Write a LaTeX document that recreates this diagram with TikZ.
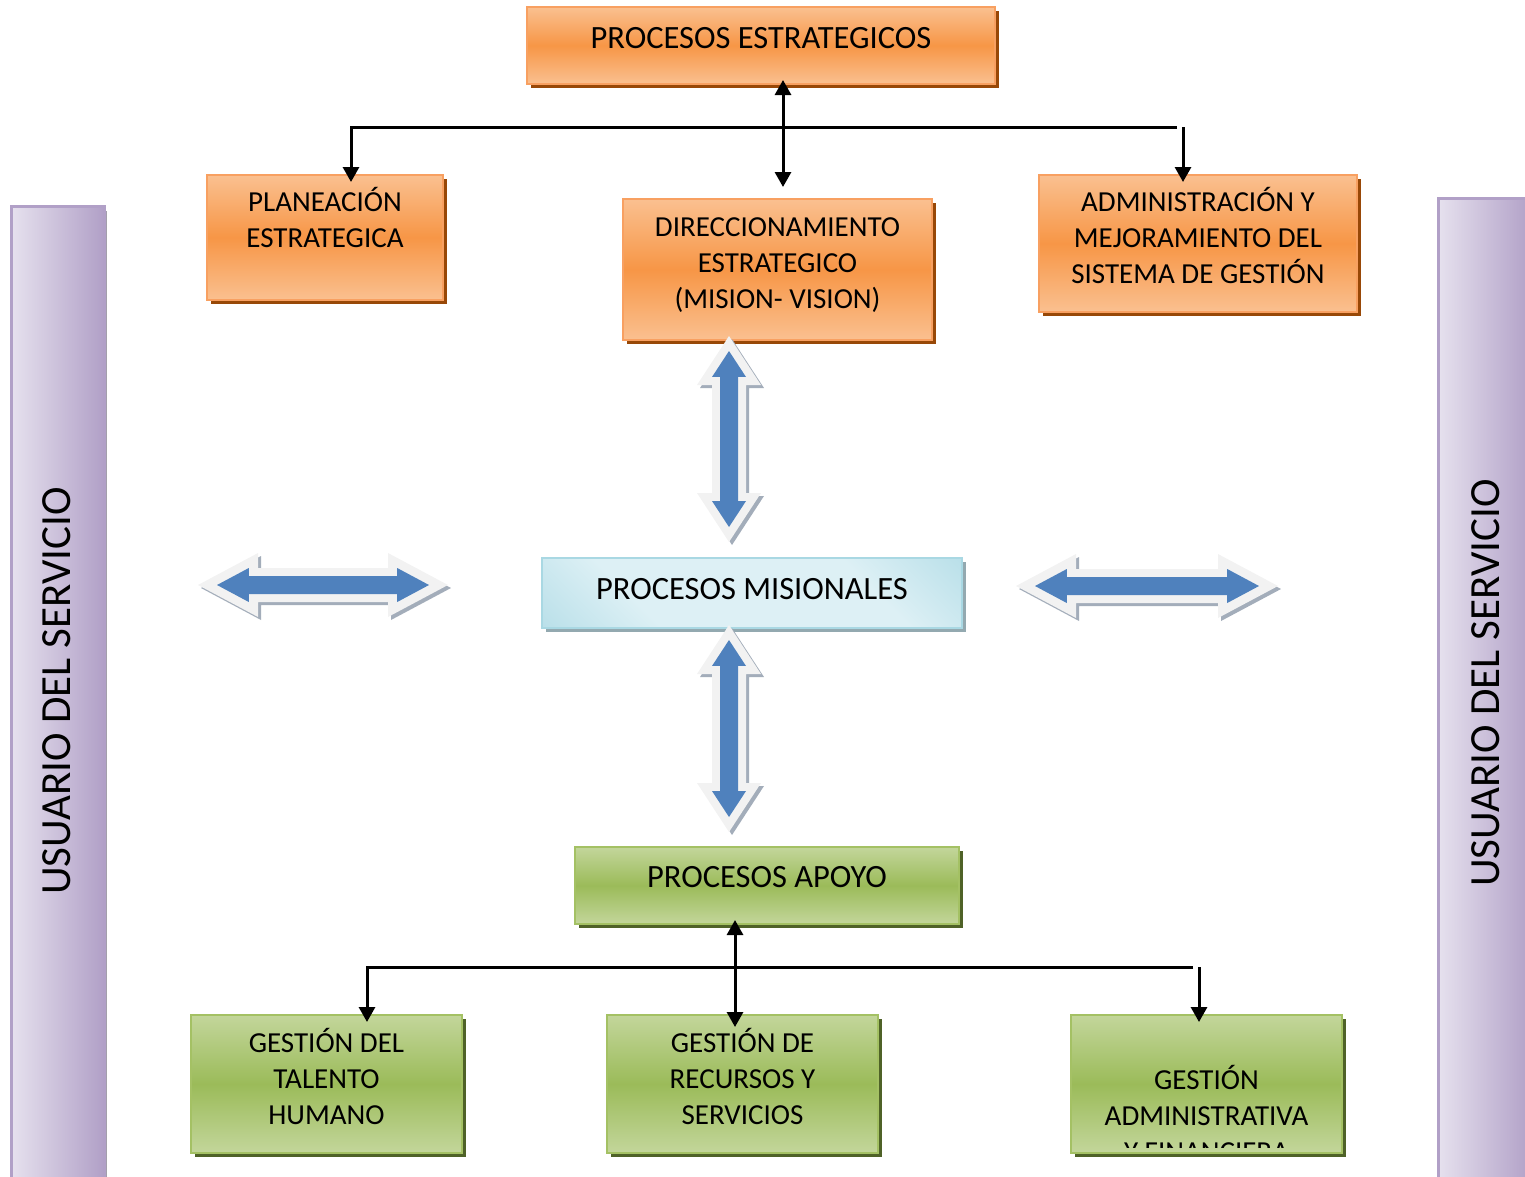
\documentclass[tikz,border=0pt]{standalone}
\usepackage{fontspec}
\setmainfont{Carlito}
\usetikzlibrary{arrows.meta}

\definecolor{orangeMid}{HTML}{F79646}
\definecolor{orangeLight}{HTML}{FAC090}
\definecolor{orangeEdge}{HTML}{F8A061}
\definecolor{orangeShadow}{HTML}{984807}
\definecolor{greenMid}{HTML}{9BBB59}
\definecolor{greenLight}{HTML}{C3D69B}
\definecolor{greenEdge}{HTML}{A4C164}
\definecolor{greenShadow}{HTML}{4F6228}
\definecolor{tealEdge}{HTML}{9CD2DF}
\definecolor{tealLight}{HTML}{DDF0F5}
\definecolor{tealLine}{HTML}{A9D8E3}
\definecolor{tealShadow}{HTML}{93A9B0}
\definecolor{lilacLight}{HTML}{E6E1EE}
\definecolor{lilacDark}{HTML}{B1A0C7}
\definecolor{barShadow}{HTML}{A39FAB}
\definecolor{arrowBlue}{HTML}{4F81BD}
\definecolor{arrowRim}{HTML}{F2F2F2}
\definecolor{arrowShade}{HTML}{A3ADBA}

% light band between two teal edges
\pgfdeclareverticalshading{tealband}{100bp}{%
  color(0bp)=(tealEdge); color(32bp)=(tealLight); color(68bp)=(tealLight); color(100bp)=(tealEdge)}

% double-headed block arrow: centre x, centre y, half length, head length, tip inset, angle
\newcommand\blockarrow[6]{%
  \pgfmathsetmacro\baL{#3}%
  \pgfmathsetmacro\baB{#3-#4}%
  \pgfmathsetmacro\biL{#3-#5}%
  \pgfmathsetmacro\biB{#3-#5-0.53*#4}%
  \fill[arrowShade, shift={(#1+3,#2+3)}, rotate=#6]
    (-\baL,0) -- (-\baB,-32) -- (-\baB,-17) -- (\baB,-17) -- (\baB,-32) -- (\baL,0)
    -- (\baB,32) -- (\baB,17) -- (-\baB,17) -- (-\baB,32) -- cycle;
  \fill[arrowRim, shift={(#1,#2)}, rotate=#6]
    (-\baL,0) -- (-\baB,-32) -- (-\baB,-17) -- (\baB,-17) -- (\baB,-32) -- (\baL,0)
    -- (\baB,32) -- (\baB,17) -- (-\baB,17) -- (-\baB,32) -- cycle;
  \fill[arrowBlue, shift={(#1,#2)}, rotate=#6]
    (-\biL,0) -- (-\biB,-17) -- (-\biB,-9) -- (\biB,-9) -- (\biB,-17) -- (\biL,0)
    -- (\biB,17) -- (\biB,9) -- (-\biB,9) -- (-\biB,17) -- cycle;
}

\tikzset{
  titlefont/.style={font=\fontsize{32.5pt}{38pt}\selectfont},
  boxfont/.style={font=\fontsize{29pt}{36pt}\selectfont},
  barfont/.style={font=\fontsize{43pt}{50pt}\selectfont},
  box/.style={rectangle, inner sep=0pt, outer sep=0pt, align=center, line width=2pt},
  orangebox/.style={box, draw=orangeEdge,
    preaction={fill=orangeShadow, transform canvas={xshift=4pt, yshift=-4pt}},
    top color=orangeLight, bottom color=orangeLight, middle color=orangeMid},
  greenbox/.style={box, draw=greenEdge,
    preaction={fill=greenShadow, transform canvas={xshift=4pt, yshift=-4pt}},
    top color=greenLight, bottom color=greenLight, middle color=greenMid},
  tealbox/.style={box, draw=tealLine,
    preaction={fill=tealShadow, transform canvas={xshift=4pt, yshift=-4pt}},
    shading=tealband, shading angle=-45},
  lilacbar/.style={box, draw=lilacDark, line width=3pt,
    preaction={fill=barShadow, transform canvas={xshift=3pt, yshift=-5pt}},
    left color=lilacLight, right color=lilacDark},
  link/.style={line width=3pt, -{Triangle[width=16pt,length=15pt]}},
  dlink/.style={line width=3pt, {Triangle[width=16pt,length=15pt]}-{Triangle[width=16pt,length=15pt]}},
}

\begin{document}
\begin{tikzpicture}[x=1pt, y=-1pt]
\useasboundingbox (0,0) rectangle (1525,1176);

% side bars
\node[lilacbar, minimum width=93pt, minimum height=990pt] (lbar) at (57.5,701) {};
\node[lilacbar, minimum width=94pt, minimum height=992pt] (rbar) at (1485,694) {};
\node[barfont, rotate=90] (ltxt) at (57,691) {USUARIO DEL SERVICIO};
\node[barfont, rotate=90] (rtxt) at (1486,683) {USUARIO DEL SERVICIO};

% strategic processes
\node[orangebox, titlefont, minimum width=468pt, minimum height=77pt, text depth=15pt]
  (est) at (761,45.5) {PROCESOS ESTRATEGICOS};
\node[orangebox, boxfont, minimum width=236pt, minimum height=125pt, text depth=40pt]
  (plan) at (325,237.5) {PLANEACIÓN\\ESTRATEGICA};
\node[orangebox, boxfont, minimum width=309pt, minimum height=141pt, text depth=12pt]
  (dir) at (777.5,269.5) {DIRECCIONAMIENTO\\ESTRATEGICO\\(MISION- VISION)};
\node[orangebox, boxfont, minimum width=318pt, minimum height=137pt, text depth=16pt]
  (adm) at (1198,243.5) {ADMINISTRACIÓN Y\\MEJORAMIENTO DEL\\SISTEMA DE GESTIÓN};

% mission processes
\node[tealbox, titlefont, minimum width=420pt, minimum height=70pt, text depth=8pt]
  (mis) at (752,593) {PROCESOS MISIONALES};

% support processes
\node[greenbox, titlefont, minimum width=384pt, minimum height=77pt, text depth=17pt]
  (apoyo) at (767,885.5) {PROCESOS APOYO};
\node[greenbox, boxfont, minimum width=271pt, minimum height=138pt, text depth=16pt]
  (tal) at (326.5,1084) {GESTIÓN DEL\\TALENTO\\HUMANO};
\node[greenbox, boxfont, minimum width=271pt, minimum height=138pt, text depth=16pt]
  (rec) at (742.5,1084) {GESTIÓN DE\\RECURSOS Y\\SERVICIOS};
\node[greenbox, minimum width=271pt, minimum height=138pt] (fin) at (1206.5,1084) {};
\begin{scope}
  \clip (fin.north west) rectangle ([yshift=6pt]fin.south east);
  \node[boxfont, align=center, text height=155pt, text depth=0pt]
    (fintxt) at (fin.center) {GESTIÓN\\ADMINISTRATIVA\\Y FINANCIERA};
\end{scope}

% block arrows
\blockarrow{729}{439}{103}{49}{15}{90}
\blockarrow{729}{728.5}{103.5}{49}{15}{90}
\blockarrow{323}{585}{125}{60}{19}{0}
\blockarrow{1147}{586}{131}{60}{19}{0}

% upper connectors
\coordinate (hl) at (351,127);
\coordinate (hr) at (1177,127);
\coordinate (vr) at (1183,127);
\coordinate (ax) at (783,127);
\draw[link, shorten >=-7pt] (hr) -- (hl) -- (hl |- plan.north);
\draw[link, shorten >=-7pt] (vr) -- (vr |- adm.north);
\draw[dlink, shorten <=-4pt, shorten >=12pt] (ax |- est.south) -- (ax |- dir.north);

% lower connectors
\coordinate (bl) at (367,967);
\coordinate (br) at (1193,967);
\coordinate (bv) at (1199,967);
\coordinate (bx) at (735,967);
\draw[link, shorten >=-7pt] (br) -- (bl) -- (bl |- tal.north);
\draw[link, shorten >=-7pt] (bv) -- (bv |- fin.north);
\draw[dlink, shorten <=-4pt, shorten >=-12pt] (bx |- apoyo.south) -- (bx |- rec.north);
\end{tikzpicture}
\end{document}
